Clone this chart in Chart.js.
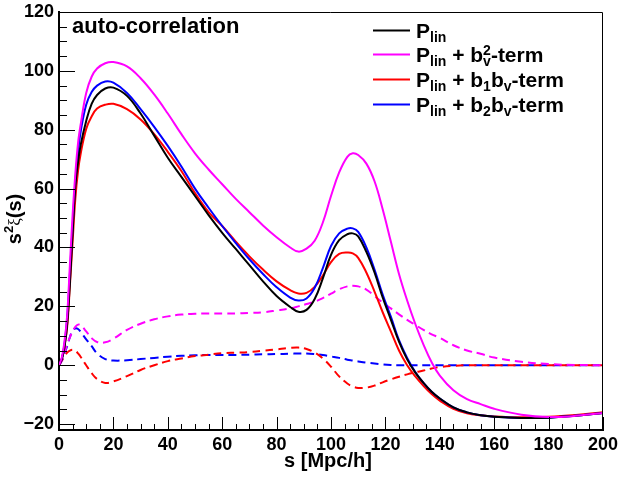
<!DOCTYPE html>
<html>
<head>
<meta charset="utf-8">
<script src="https://cdn.jsdelivr.net/npm/chart.js@4/dist/chart.umd.min.js"></script>
<style>
  body { margin: 0; background: #fff; }
</style>
</head>
<body>
<canvas id="myChart" width="620" height="477"></canvas>
<script>
// s grid in Mpc/h
var sValues = [0, 1, 2, 3, 4, 5, 6, 7, 8, 10, 12, 14, 17, 20, 25, 30, 35, 40, 45, 50, 55, 60, 65, 70, 75, 80, 85,
  88, 91, 94, 97, 100, 103, 106, 108, 110, 113, 116, 119, 122, 125, 128, 131, 134, 137, 140,
  145, 150, 155, 160, 170, 180, 190, 200];

// solid curves: s^2 xi(s)
var pLin = [0, 2, 6, 14, 28, 45, 61, 69, 75, 83, 88.8, 91.8, 94, 94.3, 91.5, 85.5, 78, 70.5, 64, 57.5, 51, 45, 39.5, 34, 28.5, 23.5, 19.8,
  18.2, 18.8, 22.5, 29.5, 37.5, 42.5, 44.5, 44.8, 43.8, 38.5, 31.5, 23, 15.5, 8, 2, -2.5, -6, -9, -11.3,
  -14.3, -16, -17, -17.5, -17.9, -17.8, -17.2, -16.2];
var pBv2 = [0, 2.5, 8, 17, 34, 51, 65, 75.5, 82, 92.5, 98, 100.8, 102.6, 103, 101.5, 97.5, 92, 85.5, 78.5, 72, 66.5, 61.5, 56.5, 52, 47.5, 43.5, 40,
  38.6, 39.6, 42.3, 48.5, 57.5, 65.5, 70.8, 72, 71.4, 68.5, 62.5, 53, 42, 31, 22, 14, 7, 1, -3.5,
  -8.5, -11.5, -13.2, -14.8, -16.8, -17.6, -17.2, -16.2];
var pB1bv = [0, 2, 6.5, 13, 27, 42, 56.5, 66, 72, 80.3, 84.5, 87.2, 88.5, 88.8, 87, 83.5, 78.5, 72.5, 66, 58.5, 52, 47.3, 42, 37, 32.5, 28.5, 25.5,
  24.4, 24.6, 26.6, 30.5, 35, 37.8, 38.3, 38, 36.5, 31.5, 25, 18, 11.5, 5, 0, -3.8, -7, -9.8, -12,
  -14.8, -16.3, -17, -17.4, -17.7, -17.5, -16.9, -16];
var pB2bv = [0, 2, 7, 16, 31, 47, 62, 72.5, 79.5, 88.5, 92.8, 95, 96.4, 96, 92.5, 87, 81, 74.5, 67.5, 60, 53.5, 47.3, 41.5, 36, 31, 26.5, 23,
  22, 22.7, 26.3, 33, 40.5, 44.8, 46.4, 46.5, 45.3, 40, 32.5, 24, 16.5, 8.5, 2.5, -2.3, -6, -9, -11.3,
  -14.3, -16, -17, -17.5, -17.9, -17.8, -17.2, -16.2];

// dashed curves: the extra terms alone
var termBv2 = [0, 1.5, 4, 7, 9.5, 11.5, 13, 13.8, 13.6, 11.5, 9.2, 7.9, 7.8, 9, 12, 14.1, 15.6, 16.6, 17.2, 17.5, 17.6, 17.6, 17.6, 17.8, 18, 18.6, 19.3,
  20, 20.8, 21.6, 22.8, 24.3, 25.8, 26.8, 27, 26.8, 25.7, 23.5, 21.3, 19.3, 17.3, 15.4, 13.7, 12, 10.5, 9.3,
  6.8, 5, 3.9, 2.6, 1.2, 0.4, 0.1, 0];
var termB1bv = [0, 1.5, 3, 4.3, 5, 5.3, 5, 4, 2.8, 0, -2.7, -4.7, -6, -5.5, -3.7, -1.6, 0, 1.4, 2.3, 3.1, 3.6, 4.1, 4.3, 4.5, 4.9, 5.4, 5.9,
  6, 5.5, 4.3, 2.3, -0.5, -3.8, -6.2, -7.2, -7.7, -7.6, -6.9, -5.8, -4.8, -3.9, -3.1, -2.4, -1.8, -1.1, -0.6,
  -0.2, 0, 0, 0, 0, 0, 0, 0];
var termB2bv = [0, 1.5, 4, 6.5, 9.5, 11.8, 12.5, 12.3, 11.3, 8.8, 6.5, 4, 2.1, 1.6, 1.7, 2.1, 2.5, 2.9, 3.2, 3.4, 3.5, 3.5, 3.5, 3.6, 3.7, 3.8, 3.9,
  4, 4, 3.8, 3.5, 3, 2.5, 1.9, 1.6, 1.3, 0.9, 0.6, 0.3, 0.1, 0, 0, 0, 0, 0, 0,
  0, 0, 0, 0, 0, 0, 0, 0];

var xTicks = [0, 20, 40, 60, 80, 100, 120, 140, 160, 180, 200];
var yTicks = [-20, 0, 20, 40, 60, 80, 100, 120];

var boldFont = '"Liberation Sans", Arial, Helvetica, sans-serif';

function toPoints(ys) {
  return sValues.map(function (s, i) {
    return { x: s, y: ys[i] };
  });
}

function lineSet(label, ys, color, dashed, order) {
  return {
    label: label,
    data: toPoints(ys),
    borderColor: color,
    borderWidth: 2,
    borderDash: dashed ? [8, 5] : [],
    pointRadius: 0,
    fill: false,
    tension: 0.4,
    order: order,
  };
}

// legend entries: rich text pieces, [text, mode]
var legendEntries = [
  { set: 0, parts: [["P", "n"], ["lin", "sub"]] },
  { set: 1, parts: [["P", "n"], ["lin", "sub"], [" + b", "n"], [["v", "2"], "subsup"], ["-term", "n"]] },
  { set: 2, parts: [["P", "n"], ["lin", "sub"], [" + b", "n"], ["1", "sub"], ["b", "n"], ["v", "sub"], ["-term", "n"]] },
  { set: 3, parts: [["P", "n"], ["lin", "sub"], [" + b", "n"], ["2", "sub"], ["b", "n"], ["v", "sub"], ["-term", "n"]] },
];

function drawRich(ctx, x, y, parts, big, small) {
  var mainF = "bold " + big + "px " + boldFont;
  var subF = "bold " + small + "px " + boldFont;
  parts.forEach(function (p) {
    var mode = p[1];
    if (mode == "n") {
      ctx.font = mainF;
      ctx.fillText(p[0], x, y);
      x += ctx.measureText(p[0]).width;
    } else if (mode == "sub") {
      ctx.font = subF;
      ctx.fillText(p[0], x, y + 4);
      x += ctx.measureText(p[0]).width;
    } else if (mode == "sup") {
      ctx.font = subF;
      ctx.fillText(p[0], x, y - 7);
      x += ctx.measureText(p[0]).width;
    } else if (mode == "subsup") {
      ctx.font = subF;
      ctx.fillText(p[0][0], x, y + 4);
      ctx.fillText(p[0][1], x, y - 7);
      x += Math.max(ctx.measureText(p[0][0]).width, ctx.measureText(p[0][1]).width);
    }
  });
  return x;
}

var rootStyle = {
  id: "rootStyle",
  afterDraw: function (chart) {
    var ctx = chart.ctx;
    var area = chart.chartArea;
    var xs = chart.scales.x;
    var ys = chart.scales.y;
    ctx.save();
    ctx.strokeStyle = "#000";
    ctx.fillStyle = "#000";

    // top and right frame
    ctx.lineWidth = 1;
    ctx.beginPath();
    ctx.moveTo(area.left, area.top + 0.5);
    ctx.lineTo(area.right - 0.5, area.top + 0.5);
    ctx.lineTo(area.right - 0.5, area.bottom);
    ctx.stroke();

    // ticks pointing into the frame
    ctx.beginPath();
    for (var v = 0; v <= 200; v += 5) {
      var px = Math.round(xs.getPixelForValue(v)) + 0.5;
      var len = v % 20 == 0 ? 13 : 6;
      ctx.moveTo(px, area.bottom);
      ctx.lineTo(px, area.bottom - len);
    }
    for (var w = -20; w <= 120; w += 5) {
      var py = Math.round(ys.getPixelForValue(w)) + 0.5;
      var ln = w % 20 == 0 ? 16 : 8;
      ctx.moveTo(area.left, py);
      ctx.lineTo(area.left + ln, py);
    }
    ctx.stroke();

    ctx.textBaseline = "alphabetic";
    ctx.textAlign = "left";

    // label in the corner
    ctx.font = "bold 22px " + boldFont;
    ctx.fillText("auto-correlation", 72, 32.5);

    // x title
    ctx.font = "bold 20px " + boldFont;
    ctx.textAlign = "center";
    ctx.fillText("s [Mpc/h]", 328, 467);
    ctx.textAlign = "left";

    // y title, rotated
    ctx.save();
    ctx.translate(21, 219);
    ctx.rotate(-Math.PI / 2);
    ctx.font = "bold 20px " + boldFont;
    var w1 = ctx.measureText("s").width;
    ctx.font = "bold 13px " + boldFont;
    var w2 = ctx.measureText("2").width;
    ctx.font = '17px "Liberation Serif", serif';
    var w3 = ctx.measureText("\u03be").width;
    ctx.font = "bold 20px " + boldFont;
    var w4 = ctx.measureText("(s)").width;
    var tx = -(w1 + w2 + w3 + w4) / 2;
    ctx.fillText("s", tx, 0);
    ctx.font = "bold 13px " + boldFont;
    ctx.fillText("2", tx + w1, -8);
    ctx.font = '17px "Liberation Serif", serif';
    ctx.fillText("\u03be", tx + w1 + w2, -1);
    ctx.font = "bold 20px " + boldFont;
    ctx.fillText("(s)", tx + w1 + w2 + w3, 0);
    ctx.restore();

    // legend
    var baseY = [37.5, 61.5, 86.5, 111.5];
    legendEntries.forEach(function (entry, i) {
      var ds = chart.data.datasets[entry.set];
      ctx.strokeStyle = ds.borderColor;
      ctx.lineWidth = 2;
      ctx.beginPath();
      ctx.moveTo(373, baseY[i] - 7);
      ctx.lineTo(410, baseY[i] - 7);
      ctx.stroke();
      ctx.fillStyle = "#000";
      drawRich(ctx, 416, baseY[i], entry.parts, 21, 14);
    });
    ctx.restore();
  },
};

new Chart("myChart", {
  type: "line",
  data: {
    datasets: [
      lineSet("P_lin", pLin, "#000000", false, 1),
      lineSet("P_lin + bv^2-term", pBv2, "#ff00ff", false, 0),
      lineSet("P_lin + b1bv-term", pB1bv, "#ff0000", false, 3),
      lineSet("P_lin + b2bv-term", pB2bv, "#0000ff", false, 2),
      lineSet("bv^2-term", termBv2, "#ff00ff", true, 4),
      lineSet("b1bv-term", termB1bv, "#ff0000", true, 5),
      lineSet("b2bv-term", termB2bv, "#0000ff", true, 6),
    ],
  },
  options: {
    responsive: false,
    animation: false,
    devicePixelRatio: 1,
    layout: { padding: { left: 0, right: 17, top: 12, bottom: 0 } },
    plugins: {
      legend: { display: false },
      tooltip: { enabled: false },
    },
    scales: {
      x: {
        type: "linear",
        min: 0,
        max: 200,
        afterBuildTicks: function (scale) {
          scale.ticks = xTicks.map(function (v) { return { value: v }; });
        },
        afterFit: function (scale) {
          scale.height = 47;
          scale.paddingLeft = 0;
          scale.paddingRight = 0;
        },
        ticks: {
          color: "#000",
          padding: 4,
          maxRotation: 0,
          font: { family: boldFont, size: 18, weight: "bold" },
        },
        grid: { display: false, drawTicks: false },
        border: { display: true, color: "#000", width: 2 },
      },
      y: {
        type: "linear",
        min: -22,
        max: 120,
        afterBuildTicks: function (scale) {
          scale.ticks = yTicks.map(function (v) { return { value: v }; });
        },
        afterFit: function (scale) {
          scale.width = 59;
          scale.paddingTop = 0;
          scale.paddingBottom = 0;
        },
        ticks: {
          color: "#000",
          padding: 5,
          font: { family: boldFont, size: 18, weight: "bold" },
          callback: function (v) {
            return v < 0 ? "\u2212" + Math.abs(v) : "" + v;
          },
        },
        grid: { display: false, drawTicks: false },
        border: { display: true, color: "#000", width: 2 },
      },
    },
  },
  plugins: [rootStyle],
});
</script>
</body>
</html>
